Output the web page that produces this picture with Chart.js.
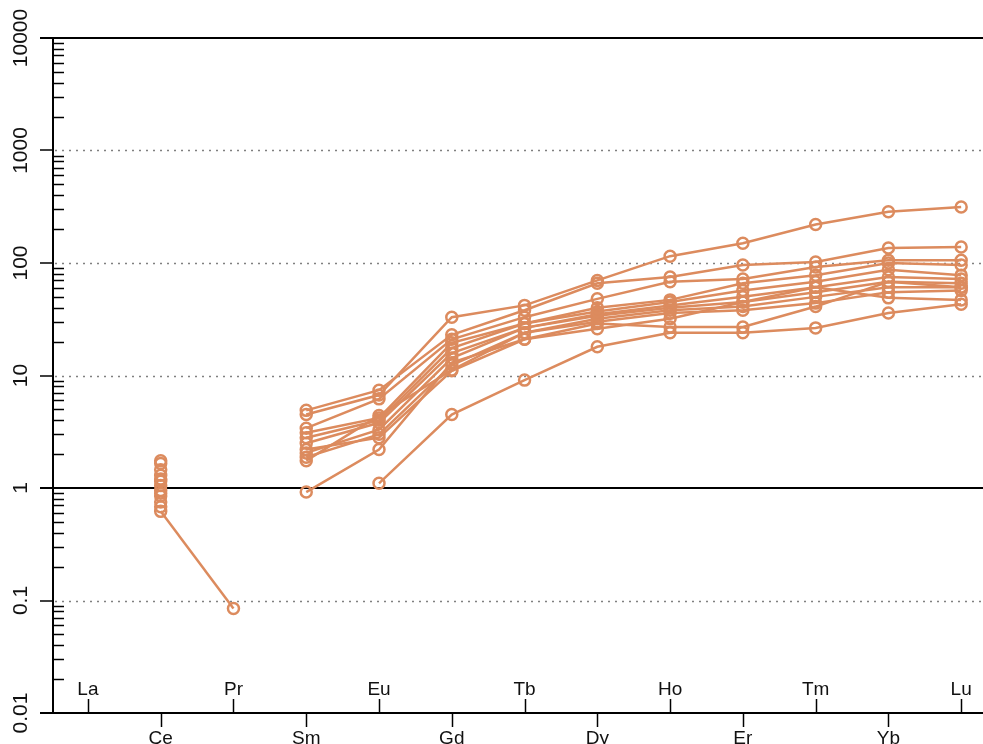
<!DOCTYPE html>
<html>
<head>
<meta charset="utf-8">
<script src="https://cdn.jsdelivr.net/npm/chart.js@4.4.1/dist/chart.umd.min.js"></script>
<style>
  html, body { margin: 0; padding: 0; background: #fff; }
  #wrap { width: 983px; height: 744px; }
</style>
</head>
<body>
<div id="wrap"><canvas id="ree-chart"></canvas></div>
<script>
/* REE element order along the x axis */
let elements = ['La', 'Ce', 'Pr', 'Sm', 'Eu', 'Gd', 'Tb', 'Dy', 'Ho', 'Er', 'Tm', 'Yb', 'Lu']

/* Normalised values per sample, one value per element (null = not analysed) */
let sample1 = [null, 1.05, null, 4.5, 6.7, 33, 42, 70, 115, 150, 220, 285, 315]
let sample2 = [null, 1.3, null, 4.9, 7.4, 23, 38, 66, 75, 96, 102, 136, 139]
let sample3 = [null, 1.75, null, 3.4, 6.2, 21, 33, 48, 68, 72, 92, 106, 106]
let sample4 = [null, 0.95, null, 3.1, 4.2, 19.5, 29, 40, 47, 66, 78, 100, 96]
let sample5 = [null, 1.45, null, 2.8, 4.0, 17.5, 29, 37, 45, 57, 68, 87, 78]
let sample6 = [null, 0.85, null, 2.5, 3.8, 15.8, 26.5, 35, 42, 50, 61, 75, 72]
let sample7 = [null, 1.15, null, 2.05, 3.3, 14.3, 26.5, 34, 40, 45, 55, 68, 66]
let sample8 = [null, 0.75, null, 1.88, 3.0, 12.4, 24, 32, 38, 41, 50, 61, 61]
let sample9 = [null, 1.65, null, 1.75, 4.4, 11.2, 24, 30, 36, 38, 44, 55, 57]
let sample10 = [null, 0.68, null, 0.92, 2.2, 13, 21, 26, 32, 45, 61, 49, 47]
let sample11 = [null, 1.2, null, 2.2, 2.8, 11, 21, 29, 27, 27, 41, 68, 61]
let sample12 = [null, 0.9, null, null, 1.1, 4.5, 9.1, 18, 24, 24, 26.5, 36, 43]
let sample13 = [null, 0.62, 0.085, null, null, null, null, null, null, null, null, null, null]

let samples = [sample1, sample2, sample3, sample4, sample5, sample6, sample7,
    sample8, sample9, sample10, sample11, sample12, sample13]

/* Decade ticks on the log axis */
let yTicks = [0.01, 0.1, 1, 10, 100, 1000, 10000]
let yTickLabels = ['0.01', '0.1', '1', '10', '100', '1000', '10000']

let lineColor = '#DC8B5E'
let xLabelFont = '19px "Liberation Sans", Arial, sans-serif'
let yLabelFont = '21px "Liberation Sans", Arial, sans-serif'

let datasets = samples.map(function(values) {
    return {
        data: values.map(function(v, i) { return { x: i, y: v } }),
        borderColor: lineColor,
        borderWidth: 2.5,
        pointRadius: 5.5,
        pointBorderWidth: 2.5,
        pointBorderColor: lineColor,
        pointBackgroundColor: 'rgba(0,0,0,0)',
        spanGaps: false,
        tension: 0
    }
})

// draws grid, axes, ticks and labels by hand (alternating x labels, inside minor ticks)
let axesPlugin = {
    id: 'reeAxes',
    beforeDatasetsDraw(chart) {
        let ctx = chart.ctx
        let area = chart.chartArea
        let x = chart.scales.x
        let y = chart.scales.y
        let right = chart.width

        ctx.save()

        // dotted decade lines
        ctx.strokeStyle = '#808080'
        ctx.lineWidth = 1.5
        ctx.setLineDash([2, 5])
        yTicks.forEach(function(t) {
            if (t == 1 || t == 0.01 || t == 10000) return
            let py = Math.round(y.getPixelForValue(t)) + 0.5
            ctx.beginPath()
            ctx.moveTo(area.left + 2, py)
            ctx.lineTo(right, py)
            ctx.stroke()
        })
        ctx.setLineDash([])

        // solid lines at 1, top and bottom
        ctx.strokeStyle = '#000'
        ctx.lineWidth = 2
        ;[1, 10000, 0.01].forEach(function(t) {
            let py = Math.round(y.getPixelForValue(t))
            ctx.beginPath()
            ctx.moveTo(area.left - 13, py)
            ctx.lineTo(right, py)
            ctx.stroke()
        })

        // left axis
        ctx.beginPath()
        ctx.moveTo(area.left, area.top)
        ctx.lineTo(area.left, area.bottom)
        ctx.stroke()

        // major ticks outside, minor ticks inside
        ctx.lineWidth = 1.5
        yTicks.forEach(function(t, k) {
            let py = Math.round(y.getPixelForValue(t))
            ctx.beginPath()
            ctx.moveTo(area.left - 13, py)
            ctx.lineTo(area.left, py)
            ctx.stroke()
            if (k == yTicks.length - 1) return
            for (let m = 2; m <= 9; m++) {
                let my = Math.round(y.getPixelForValue(t * m)) + 0.5
                ctx.beginPath()
                ctx.moveTo(area.left, my)
                ctx.lineTo(area.left + 11, my)
                ctx.stroke()
            }
        })

        // x ticks: up for La, Pr, ...; down for Ce, Sm, ...
        elements.forEach(function(el, i) {
            let px = Math.round(x.getPixelForValue(i)) + 0.5
            ctx.beginPath()
            if (i % 2 == 0) {
                ctx.moveTo(px, area.bottom)
                ctx.lineTo(px, area.bottom - 14)
            } else {
                ctx.moveTo(px, area.bottom)
                ctx.lineTo(px, area.bottom + 14)
            }
            ctx.stroke()
        })

        // labels
        ctx.fillStyle = '#111'
        ctx.font = xLabelFont
        ctx.textAlign = 'center'
        elements.forEach(function(el, i) {
            let px = x.getPixelForValue(i)
            if (i % 2 == 0) {
                ctx.textBaseline = 'alphabetic'
                ctx.fillText(el, px, area.bottom - 18)
            } else {
                ctx.textBaseline = 'top'
                ctx.fillText(el, px, area.bottom + 16)
            }
        })

        ctx.font = yLabelFont
        yTicks.forEach(function(t, k) {
            let py = y.getPixelForValue(t)
            ctx.save()
            ctx.translate(21, py)
            ctx.rotate(-Math.PI / 2)
            ctx.textBaseline = 'middle'
            ctx.fillText(yTickLabels[k], 0, 0)
            ctx.restore()
        })

        ctx.restore()
    }
}

let chartCanvas = document.querySelector('#ree-chart')
let ctx = chartCanvas.getContext('2d')

let reeChart = new Chart(ctx, {
    type: 'line',
    data: { datasets: datasets },
    options: {
        responsive: true,
        maintainAspectRatio: false,
        animation: false,
        layout: { autoPadding: false, padding: { left: 53, top: 38, right: 0, bottom: 31 } },
        plugins: { legend: { display: false }, tooltip: { enabled: false } },
        scales: {
            x: { type: 'linear', min: -0.48, max: 12.3, display: false },
            y: { type: 'logarithmic', min: 0.01, max: 10000, display: false }
        }
    },
    plugins: [axesPlugin]
})
</script>
</body>
</html>
